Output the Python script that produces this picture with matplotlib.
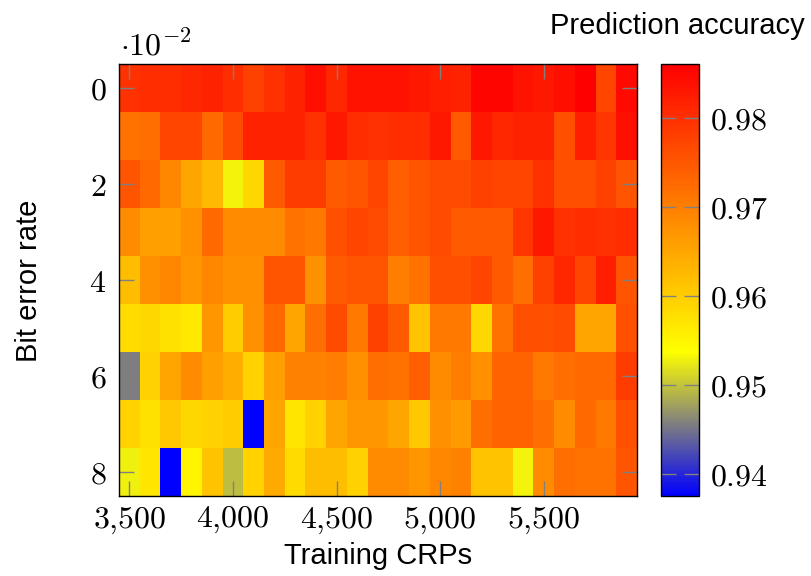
import numpy as np
import matplotlib
matplotlib.use("Agg")
import matplotlib.pyplot as plt
from matplotlib.colors import LinearSegmentedColormap

plt.rcParams["mathtext.fontset"] = "cm"
plt.rcParams["font.family"] = ["Liberation Sans", "DejaVu Sans"]

# training set sizes (column centres) and bit error rates (row centres)
training_crps = [3500, 3600, 3700, 3800, 3900, 4000, 4100, 4200, 4300, 4400,
                 4500, 4600, 4700, 4800, 4900, 5000, 5100, 5200, 5300, 5400,
                 5500, 5600, 5700, 5800, 5900]
bit_error_rates = [0.00, 0.01, 0.02, 0.03, 0.04, 0.05, 0.06, 0.07, 0.08]

# prediction accuracy, one list per bit error rate
acc_ber0 = [0.9797, 0.9804, 0.9804, 0.9810, 0.9817, 0.9804, 0.9778, 0.9797, 0.9817, 0.9842,
            0.9810, 0.9836, 0.9836, 0.9836, 0.9829, 0.9823, 0.9817, 0.9855, 0.9855, 0.9836,
            0.9829, 0.9842, 0.9861, 0.9772, 0.9848]
acc_ber1 = [0.9715, 0.9721, 0.9772, 0.9772, 0.9728, 0.9766, 0.9817, 0.9817, 0.9817, 0.9797,
            0.9829, 0.9804, 0.9797, 0.9804, 0.9804, 0.9829, 0.9747, 0.9829, 0.9810, 0.9817,
            0.9817, 0.9759, 0.9823, 0.9791, 0.9842]
acc_ber2 = [0.9753, 0.9728, 0.9690, 0.9651, 0.9626, 0.9530, 0.9588, 0.9747, 0.9785, 0.9785,
            0.9747, 0.9753, 0.9772, 0.9740, 0.9753, 0.9766, 0.9766, 0.9778, 0.9772, 0.9772,
            0.9797, 0.9759, 0.9759, 0.9778, 0.9753]
acc_ber3 = [0.9683, 0.9658, 0.9658, 0.9677, 0.9728, 0.9683, 0.9683, 0.9683, 0.9715, 0.9709,
            0.9759, 0.9772, 0.9766, 0.9740, 0.9753, 0.9766, 0.9747, 0.9747, 0.9747, 0.9791,
            0.9829, 0.9797, 0.9804, 0.9797, 0.9804]
acc_ber4 = [0.9620, 0.9677, 0.9690, 0.9671, 0.9690, 0.9677, 0.9677, 0.9753, 0.9753, 0.9677,
            0.9747, 0.9753, 0.9753, 0.9702, 0.9715, 0.9759, 0.9759, 0.9772, 0.9747, 0.9721,
            0.9778, 0.9810, 0.9772, 0.9823, 0.9753]
acc_ber5 = [0.9582, 0.9588, 0.9575, 0.9566, 0.9671, 0.9601, 0.9677, 0.9728, 0.9651, 0.9721,
            0.9766, 0.9709, 0.9778, 0.9747, 0.9613, 0.9709, 0.9709, 0.9588, 0.9715, 0.9759,
            0.9759, 0.9766, 0.9651, 0.9651, 0.9759]
acc_ber6 = [0.9456, 0.9594, 0.9651, 0.9683, 0.9658, 0.9639, 0.9594, 0.9658, 0.9696, 0.9696,
            0.9702, 0.9677, 0.9721, 0.9715, 0.9740, 0.9683, 0.9702, 0.9677, 0.9734, 0.9734,
            0.9709, 0.9721, 0.9728, 0.9728, 0.9785]
acc_ber7 = [0.9594, 0.9575, 0.9607, 0.9588, 0.9594, 0.9601, 0.9375, 0.9651, 0.9569, 0.9594,
            0.9651, 0.9671, 0.9671, 0.9651, 0.9607, 0.9677, 0.9664, 0.9721, 0.9734, 0.9734,
            0.9721, 0.9683, 0.9728, 0.9709, 0.9759]
acc_ber8 = [0.9527, 0.9569, 0.9375, 0.9550, 0.9613, 0.9496, 0.9594, 0.9645, 0.9582, 0.9620,
            0.9620, 0.9594, 0.9683, 0.9683, 0.9671, 0.9690, 0.9696, 0.9613, 0.9613, 0.9530,
            0.9683, 0.9721, 0.9715, 0.9715, 0.9753]

accuracy = np.array([acc_ber0, acc_ber1, acc_ber2, acc_ber3, acc_ber4,
                     acc_ber5, acc_ber6, acc_ber7, acc_ber8])

x_ticks = [3500, 4000, 4500, 5000, 5500]
y_ticks = [0.00, 0.02, 0.04, 0.06, 0.08]
cbar_ticks = [0.94, 0.95, 0.96, 0.97, 0.98]

cmap = LinearSegmentedColormap.from_list(
    "bgyr", [(0.0, "blue"), (1 / 6, "gray"), (1 / 3, "yellow"), (1.0, "red")])

W, H = 812, 576
fig = plt.figure(figsize=(W / 100, H / 100), dpi=100)
ax = fig.add_axes([119 / W, 80 / H, 518 / W, 432 / H])
cax = fig.add_axes([661 / W, 80 / H, 38 / W, 432 / H])

mesh = ax.pcolormesh(training_crps, bit_error_rates, accuracy, cmap=cmap,
                     shading="nearest")
ax.set_xlim(3450, 5950)
ax.set_ylim(0.085, -0.005)

ax.set_xticks(x_ticks)
ax.set_xticklabels([f"${t // 1000}{{,}}{t % 1000:03d}$" for t in x_ticks])
ax.set_yticks(y_ticks)
ax.set_yticklabels([f"${round(t * 100)}$" for t in y_ticks])
ax.tick_params(direction="in", length=11, width=1, color="gray",
               top=True, right=True, labelsize=23)
ax.tick_params(axis="x", pad=6)
ax.tick_params(axis="y", pad=9)
for s in ax.spines.values():
    s.set_linewidth(1)

cb = fig.colorbar(mesh, cax=cax)
cb.set_ticks(cbar_ticks)
cb.set_ticklabels([f"${t:.2f}$" for t in cbar_ticks])
cax.yaxis.set_ticks_position("both")
cax.tick_params(direction="in", length=11, width=1, color="gray",
                labelleft=False, labelright=True, labelsize=23, pad=8)
cb.outline.set_linewidth(1)

fig.text(120 / W, 1 - 55 / H, r"$\cdot 10^{-2}$", fontsize=23, ha="left", va="baseline")
fig.text(677 / W, 1 - 26 / H, "Prediction accuracy", fontsize=21, ha="center", va="center")
fig.text(378 / W, 1 - 556 / H, "Training CRPs", fontsize=21, ha="center", va="center")
fig.text(29 / W, 1 - 281 / H, "Bit error rate", fontsize=21, rotation=90,
         ha="center", va="center")

fig.savefig("out.png", dpi=100)
